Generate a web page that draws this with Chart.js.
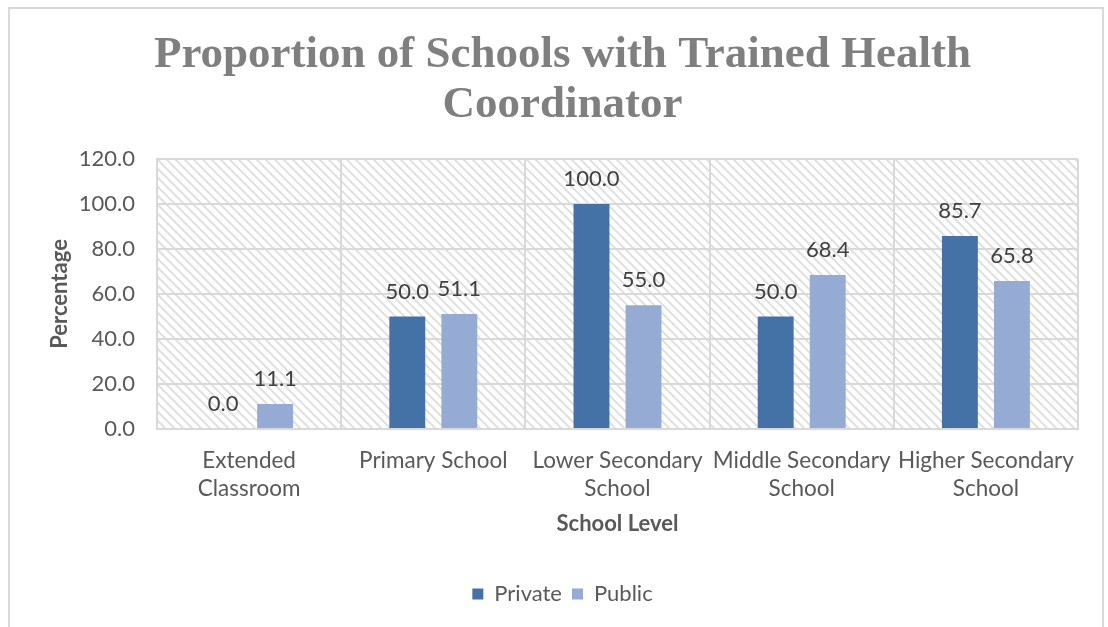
<!DOCTYPE html>
<html>
<head>
<meta charset="utf-8">
<script src="https://cdn.jsdelivr.net/npm/chart.js@4"></script>
<style>
  html, body { margin: 0; padding: 0; background: #fff; overflow: hidden; }
  #wrap { position: relative; width: 1108px; height: 627px; }
  #frame { position: absolute; left: 8px; top: 7px; width: 1096px; height: 700px; border: 2px solid #d9d9d9; box-sizing: border-box; }
  #chart { position: absolute; left: 0; top: 0; }
</style>
</head>
<body>
<div id="wrap">
  <div id="frame"></div>
  <canvas id="chart" width="1108" height="627"></canvas>
</div>
<script>
const categories = [['Extended', 'Classroom'], 'Primary School', ['Lower Secondary', 'School'], ['Middle Secondary', 'School'], ['Higher Secondary', 'School']];
const privateValues = [0.0, 50.0, 100.0, 50.0, 85.7];
const publicValues = [11.1, 51.1, 55.0, 68.4, 65.8];
const yTicks = [0, 20, 40, 60, 80, 100, 120];

const textFont = 'Lato, "Open Sans", sans-serif';

// diagonal hatch behind the plot area
const hatchPlugin = {
    id: 'hatch',
    beforeDraw(chart) {
        const a = chart.chartArea;
        const c = chart.ctx;
        c.save();
        c.beginPath();
        c.rect(a.left, a.top, a.right - a.left, a.bottom - a.top);
        c.clip();
        c.strokeStyle = '#e0e0e0';
        c.lineWidth = 2;
        const h = a.bottom - a.top;
        for (let x = a.left - h; x < a.right + 10; x += 9) {
            c.beginPath();
            c.moveTo(x, a.top);
            c.lineTo(x + h, a.bottom);
            c.stroke();
        }
        c.restore();
    }
};

// value labels above the bars
const valueLabels = {
    id: 'valueLabels',
    afterDatasetsDraw(chart) {
        const c = chart.ctx;
        c.save();
        c.font = '22px ' + textFont;
        c.fillStyle = '#404040';
        c.textAlign = 'center';
        c.textBaseline = 'middle';
        chart.data.datasets.forEach((ds, i) => {
            chart.getDatasetMeta(i).data.forEach((bar, j) => {
                c.fillText(ds.data[j].toFixed(1), bar.x, bar.y - 25);
            });
        });
        c.restore();
    }
};

new Chart(document.getElementById('chart'), {
    type: 'bar',
    data: {
        labels: categories,
        datasets: [
            { label: 'Private', data: privateValues, backgroundColor: '#4472a7' },
            { label: 'Public', data: publicValues, backgroundColor: '#95abd3' }
        ]
    },
    options: {
        responsive: false,
        animation: false,
        layout: { padding: { left: 47, right: 30, top: 30, bottom: 12 } },
        datasets: {
            bar: { categoryPercentage: 0.565, barPercentage: 0.69 }
        },
        plugins: {
            title: {
                display: true,
                text: ['Proportion of Schools with Trained Health', 'Coordinator'],
                color: '#7f7f7f',
                font: { family: '"Liberation Serif", "DejaVu Serif", serif', size: 45, weight: 'bold', lineHeight: 1.11 },
                padding: { top: 0, bottom: 29 }
            },
            legend: {
                position: 'bottom',
                labels: {
                    color: '#595959',
                    font: { family: textFont, size: 22 },
                    boxWidth: 11,
                    boxHeight: 11,
                    padding: 10
                }
            },
            tooltip: { enabled: false }
        },
        scales: {
            x: {
                afterFit(scale) { scale.height = 144; },
                grid: { color: '#d9d9d9', lineWidth: 2, drawTicks: false },
                border: { color: '#d9d9d9', width: 2 },
                ticks: { color: '#595959', font: { family: textFont, size: 22.5, lineHeight: 1.27 }, padding: 17, maxRotation: 0, autoSkip: false },
                title: { display: true, text: 'School Level', color: '#595959', font: { family: textFont, size: 22, weight: 'bold', lineHeight: 1.1 }, padding: { top: 10, bottom: 37 } }
            },
            y: {
                min: 0,
                max: 120,
                afterBuildTicks(scale) { scale.ticks = yTicks.map(v => ({ value: v })); },
                afterFit(scale) { scale.width = 110; },
                grid: { color: '#d9d9d9', lineWidth: 2, drawTicks: false },
                border: { color: '#d9d9d9', width: 2 },
                ticks: { color: '#595959', font: { family: textFont, size: 22 }, padding: 22, callback: v => v.toFixed(1) },
                title: { display: true, text: 'Percentage', color: '#595959', font: { family: textFont, size: 22, weight: 'bold', lineHeight: 1.2 }, padding: { top: 0, bottom: 6 } }
            }
        }
    },
    plugins: [hatchPlugin, valueLabels]
});
</script>
</body>
</html>
